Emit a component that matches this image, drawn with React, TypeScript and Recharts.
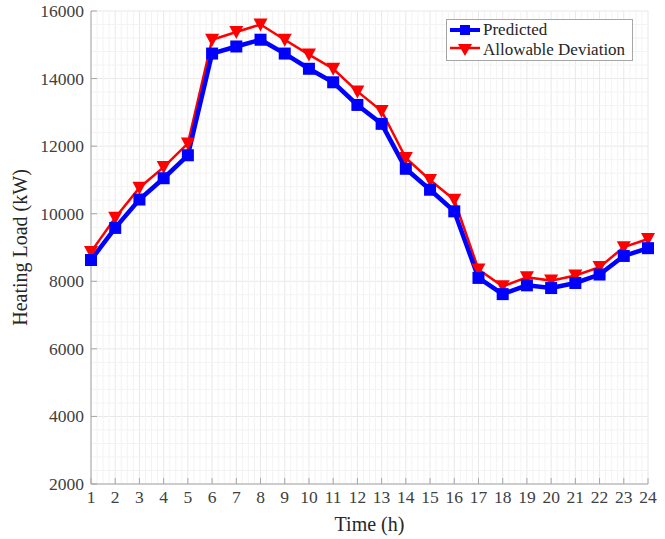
import { LineChart, Line, XAxis, YAxis, CartesianGrid, ReferenceLine } from 'recharts';

const hours = [1, 2, 3, 4, 5, 6, 7, 8, 9, 10, 11, 12, 13, 14, 15, 16, 17, 18, 19, 20, 21, 22, 23, 24];
const predicted = [8630, 9580, 10420, 11050, 11730, 14740, 14950, 15150, 14740, 14290, 13890, 13220, 12660, 11330, 10710, 10070, 8100, 7620, 7880, 7800, 7950, 8200, 8750, 8980];
const allowable = [8870, 9880, 10770, 11380, 12080, 15150, 15380, 15600, 15150, 14710, 14290, 13620, 13040, 11650, 11000, 10410, 8350, 7850, 8120, 8020, 8170, 8420, 9010, 9250];
const yTicks = [2000, 4000, 6000, 8000, 10000, 12000, 14000, 16000];
const yMinor = Array.from({ length: 36 }, (_, i) => 2000 + i * 400).filter((v) => v % 2000 !== 0);
const xMinor = Array.from({ length: 93 }, (_, i) => 1 + i * 0.25).filter((v) => v % 1 !== 0);

const data = hours.map((h, i) => ({ h, predicted: predicted[i], allowable: allowable[i] }));

const FONT = '"Liberation Serif", "Times New Roman", serif';
const AXIS = '#a6a6a6';
const TXT = '#404040';

const Square = (props: any) => {
  const { cx, cy, index } = props;
  return <rect key={`s${index}`} x={cx - 6} y={cy - 6} width={12} height={12} fill="#0000ff" />;
};

const Tri = (props: any) => {
  const { cx, cy, index } = props;
  return <path key={`t${index}`} d={`M${cx - 7},${cy - 6} L${cx + 7},${cy - 6} L${cx},${cy + 7} Z`} fill="#ff0000" />;
};

const XTick = (props: any) => {
  const { x, y, payload } = props;
  return (
    <g>
      <line x1={x} x2={x} y1={y - 6} y2={y - 12} stroke={AXIS} />
      <text x={x} y={y + 13} textAnchor="middle" fontFamily={FONT} fontSize={17.5} fill={TXT}>{payload.value}</text>
    </g>
  );
};

const YTick = (props: any) => {
  const { x, y, payload } = props;
  return (
    <g>
      <line x1={x + 7} x2={x + 13} y1={y} y2={y} stroke={AXIS} />
      <text x={x} y={y + 6} textAnchor="end" fontFamily={FONT} fontSize={17.5} fill={TXT}>{payload.value}</text>
    </g>
  );
};

const LegendBox = () => (
  <div style={{ position: 'absolute', top: 19, left: 446, width: 176, border: '1px solid #a6a6a6', background: '#fff', fontFamily: FONT, fontSize: 17, color: '#262626', padding: '0px 6px 0px 3px', lineHeight: '20px' }}>
    <div style={{ display: 'flex', alignItems: 'center' }}>
      <svg width={30} height={14}><line x1={0} x2={30} y1={7} y2={7} stroke="#0000ff" strokeWidth={4} /><rect x={10} y={2} width={10} height={10} fill="#0000ff" /></svg>
      <span style={{ marginLeft: 3 }}>Predicted</span>
    </div>
    <div style={{ display: 'flex', alignItems: 'center' }}>
      <svg width={30} height={14}><line x1={0} x2={30} y1={5} y2={5} stroke="#ff0000" strokeWidth={2.5} /><path d="M8,1 L22,1 L15,13 Z" fill="#ff0000" /></svg>
      <span style={{ marginLeft: 3 }}>Allowable Deviation</span>
    </div>
  </div>
);

export default function App() {
  return (
    <div style={{ position: 'absolute', left: 0, top: 0, width: 665, height: 539, background: '#fff' }}>
      <LineChart width={665} height={539} data={data} margin={{ top: 11, right: 17, left: 0, bottom: 0 }}>
        <CartesianGrid stroke="#e8e8e8" />
        {yMinor.map((v) => <ReferenceLine key={`ym${v}`} y={v} stroke="#f3f3f3" ifOverflow="hidden" />)}
        {xMinor.map((v) => <ReferenceLine key={`xm${v}`} x={v} stroke="#f3f3f3" ifOverflow="hidden" />)}
        <XAxis dataKey="h" type="number" domain={[1, 24]} ticks={hours} interval={0} height={55} stroke={AXIS} tickLine={false} tickSize={0} tickMargin={6} tick={<XTick />}
          label={{ value: 'Time (h)', position: 'insideBottom', offset: 8, fontFamily: FONT, fontSize: 20, fill: '#262626' }} />
        <YAxis type="number" domain={[2000, 16000]} ticks={yTicks} width={91} stroke={AXIS} tickLine={false} tickSize={0} tickMargin={7} tick={<YTick />}
          label={{ value: 'Heating Load (kW)', angle: -90, position: 'insideLeft', offset: 20, style: { textAnchor: 'middle' }, fontFamily: FONT, fontSize: 20, fill: '#262626' }} />
        <XAxis xAxisId="top" orientation="top" dataKey="h" type="number" domain={[1, 24]} ticks={hours} height={0} stroke={AXIS} tick={false} tickLine={false} />
        <YAxis yAxisId="right" orientation="right" domain={[2000, 16000]} ticks={yTicks} width={0} stroke={AXIS} tick={false} tickLine={false} />
        <Line dataKey="allowable" name="Allowable Deviation" stroke="#ff0000" strokeWidth={2.5} dot={<Tri />} activeDot={false} isAnimationActive={false} />
        <Line dataKey="predicted" name="Predicted" stroke="#0000ff" strokeWidth={4.5} dot={<Square />} activeDot={false} isAnimationActive={false} />
      </LineChart>
      <LegendBox />
    </div>
  );
}
